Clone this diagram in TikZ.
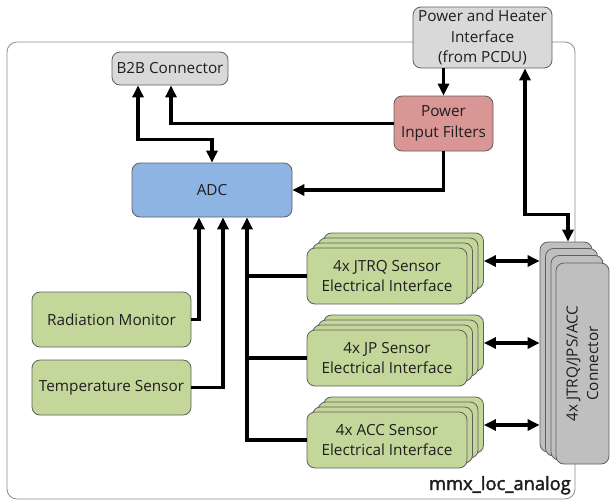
\documentclass[tikz,border=0pt]{standalone}
\usepackage{fontspec}
\setmainfont{Open Sans}
\newfontfamily\modfont{Open Sans}[FakeBold=2]
\usetikzlibrary{arrows.meta,calc}

\definecolor{boxgray}{HTML}{D9D9D9}
\definecolor{filtred}{HTML}{D99694}
\definecolor{adcblue}{HTML}{8EB4E3}
\definecolor{sensgreen}{HTML}{C4D79B}
\definecolor{conngray}{HTML}{BFBFBF}
\definecolor{edgegray}{HTML}{5F5F5F}
\definecolor{framegray}{HTML}{8C8C8C}
\definecolor{inkcol}{HTML}{1E1E1E}

\tikzset{
  blk/.style={draw=edgegray, line width=0.8pt, rounded corners=8pt, align=center,
    inner sep=0pt, text=inkcol, font=\fontsize{15.3}{20.5}\selectfont},
  sens/.style={blk, fill=sensgreen, minimum width=160pt, minimum height=56pt},
  connlayer/.style={blk, fill=conngray, draw=edgegray},
  wire/.style={line width=3.4pt, line join=miter, draw=black},
  tip/.style={-{Triangle[length=12pt,width=11pt]}},
  dtip/.style={{Triangle[length=12pt,width=11pt]}-{Triangle[length=12pt,width=11pt]}}
}

\begin{document}
\begin{tikzpicture}[x=1pt, y=-1pt]
\useasboundingbox (0,0) rectangle (610,501);

% outer module frame
\node[draw=framegray, line width=0.8pt, rounded corners=10pt,
      minimum width=568pt, minimum height=457pt, inner sep=0pt] (frame) at (291,270.5) {};

% upper blocks
\node[blk, fill=boxgray, minimum width=139pt, minimum height=61pt] (pwr) at (482.5,37.5)
  {Power and Heater\\Interface\\(from PCDU)};
\node[blk, fill=boxgray, minimum width=116pt, minimum height=33pt] (b2b) at (170,68.5)
  {B2B Connector};
\node[blk, fill=filtred, minimum width=99pt, minimum height=55pt] (filt) at (443.5,123.5)
  {Power\\Input Filters};
\node[blk, fill=adcblue, minimum width=160pt, minimum height=54pt] (adc) at (212,190)
  {ADC};

% on-board sensors
\node[blk, fill=sensgreen, minimum width=159pt, minimum height=55pt] (rad) at (111.5,319.5)
  {Radiation Monitor};
\node[blk, fill=sensgreen, minimum width=159pt, minimum height=55pt] (temp) at (111.5,387.5)
  {Temperature Sensor};

% stacked sensor interfaces (four channels each)
\foreach \nm/\cy/\txt in {jtrq/276/{4x JTRQ Sensor\\Electrical Interface},
                          jp/358/{4x JP Sensor\\Electrical Interface},
                          acc/440/{4x ACC Sensor\\Electrical Interface}}{
  \foreach \k in {3,2,1}{
    \node[sens] (\nm\k) at (387+5.5*\k, \cy-5*\k) {};
  }
  \node[sens] (\nm0) at (387,\cy) {\txt};
}

% stacked external connector
\node[connlayer, minimum width=52pt, minimum height=210pt] (c0) at (566,347) {};
\node[connlayer, minimum width=52pt, minimum height=207.5pt] (c1) at (571.5,352.25) {};
\node[connlayer, minimum width=52pt, minimum height=204.5pt] (c2) at (577,357.75) {};
\node[connlayer, rotate=90, minimum width=201pt, minimum height=53pt] (c3) at (582.5,363.5)
  {4x JTRQ/JPS/ACC\\Connector};

% module name
\node[anchor=base east, inner sep=0pt, text=inkcol,
      font=\modfont\fontsize{18.3}{20}\selectfont] (lbl) at (571,490)
  {mmx\_loc\_analog};

% power path
\draw[wire, tip] (filt.north |- pwr.south) -- (filt.north);
\draw[wire, tip] (filt.west) -| ([xshift=1pt]b2b.south);
\draw[wire, tip] (filt.south) |- (adc.east);
\draw[wire, dtip] ([xshift=42.5pt]pwr.south) -- ++(0,146) -| ([xshift=2pt]c0.north);

% board-to-board link
\draw[wire, dtip] ([xshift=-32pt]b2b.south) -- ++(0,54) -| (adc.north);

% analog inputs into the ADC
\coordinate (bus) at ([xshift=35pt]adc.south);
\draw[wire, tip] (rad.east) -| ([xshift=-13pt]adc.south);
\draw[wire, tip] (temp.east) -| ([xshift=11pt]adc.south);
\draw[wire, tip] (acc0.west) -| (bus);
\draw[wire] (jtrq0.west) -- (jtrq0.west -| bus);
\draw[wire] (jp0.west) -- (jp0.west -| bus);

% sensor interfaces to the connector
\foreach \nm in {jtrq,jp,acc}{
  \draw[wire, dtip] (\nm3.east) -- (\nm3.east -| c0.west);
}
\end{tikzpicture}
\end{document}
